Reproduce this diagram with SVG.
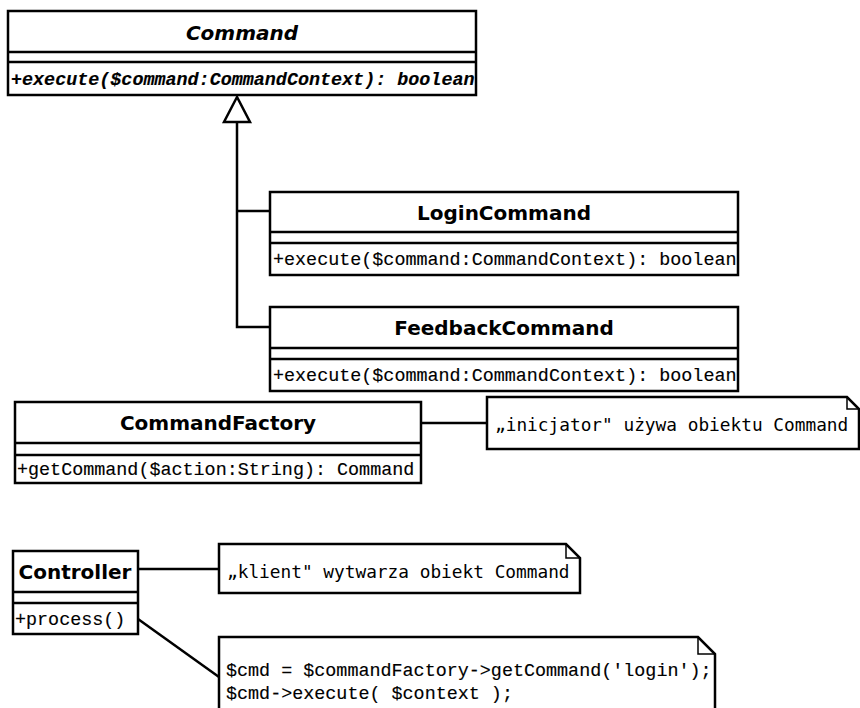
<svg xmlns="http://www.w3.org/2000/svg" width="860" height="708" viewBox="0 0 860 708">
<defs>
<style>
.box{fill:#fff;stroke:#000;stroke-width:2.5}
.dv{stroke:#000;stroke-width:2.5}
.name{font-family:"DejaVu Sans","Liberation Sans",sans-serif;font-weight:bold;font-size:20px;text-anchor:middle;fill:#000}
.op{font-family:"Liberation Mono","DejaVu Sans Mono",monospace;font-size:18.4px;fill:#000;stroke:#000;stroke-width:0.15}
.note{fill:#fff;stroke:#000;stroke-width:2.5;stroke-linejoin:miter}
.fold{fill:none;stroke:#000;stroke-width:1.5}
.ntext{font-family:"DejaVu Sans Mono",monospace;font-size:17.8px;fill:#000}
.code{font-family:"Liberation Mono","DejaVu Sans Mono",monospace;font-size:18.4px;fill:#000;stroke:#000;stroke-width:0.15}
.conn{stroke:#000;stroke-width:2.5;fill:none}
</style>
</defs>
<rect width="860" height="708" fill="#fff"/>
<g id="connectors">
<path class="conn" d="M237,122 V327 H270 M237,211 H270"/>
<polygon points="237,97 224,122 250,122" fill="#fff" stroke="#000" stroke-width="2.5"/>
<line class="conn" x1="421" y1="423" x2="487" y2="423"/>
<line class="conn" x1="138" y1="569" x2="219" y2="569"/>
<line class="conn" x1="138" y1="619" x2="219" y2="677"/>
</g>
<g id="Command">
<rect class="box" x="8" y="11" width="468" height="84"/>
<line class="dv" x1="8" y1="52" x2="476" y2="52"/>
<line class="dv" x1="8" y1="62" x2="476" y2="62"/>
<text class="name" x="242" y="40" font-style="italic">Command</text>
<text class="op" x="11" y="85" font-weight="bold" font-style="italic">+execute($command:CommandContext): boolean</text>
</g>
<g id="LoginCommand">
<rect class="box" x="270" y="192" width="468" height="83"/>
<line class="dv" x1="270" y1="232" x2="738" y2="232"/>
<line class="dv" x1="270" y1="243" x2="738" y2="243"/>
<text class="name" x="504" y="220">LoginCommand</text>
<text class="op" x="273" y="265">+execute($command:CommandContext): boolean</text>
</g>
<g id="FeedbackCommand">
<rect class="box" x="270" y="307" width="468" height="84"/>
<line class="dv" x1="270" y1="348" x2="738" y2="348"/>
<line class="dv" x1="270" y1="359" x2="738" y2="359"/>
<text class="name" x="504" y="335">FeedbackCommand</text>
<text class="op" x="273" y="381">+execute($command:CommandContext): boolean</text>
</g>
<g id="CommandFactory">
<rect class="box" x="15" y="402" width="406" height="81"/>
<line class="dv" x1="15" y1="443" x2="421" y2="443"/>
<line class="dv" x1="15" y1="455" x2="421" y2="455"/>
<text class="name" x="218" y="430">CommandFactory</text>
<text class="op" x="17" y="475">+getCommand($action:String): Command</text>
</g>
<g id="note-inicjator">
<path class="note" d="M487,397 H847 L859,409 V449 H487 Z"/>
<path class="fold" d="M847,397 V409 H859"/>
<text class="ntext" x="495" y="431">„inicjator" używa obiektu Command</text>
</g>
<g id="Controller">
<rect class="box" x="13" y="551" width="125" height="83"/>
<line class="dv" x1="13" y1="592" x2="138" y2="592"/>
<line class="dv" x1="13" y1="603" x2="138" y2="603"/>
<text class="name" x="75" y="579">Controller</text>
<text class="op" x="15" y="625">+process()</text>
</g>
<g id="note-klient">
<path class="note" d="M219,544 H566 L580,558 V593 H219 Z"/>
<path class="fold" d="M566,544 V558 H580"/>
<text class="ntext" x="227" y="578">„klient" wytwarza obiekt Command</text>
</g>
<g id="note-code">
<path class="note" d="M219,637 H698 L715,654 V712 H219 Z"/>
<path class="fold" d="M698,637 V654 H715"/>
<text class="code" x="226" y="676">$cmd = $commandFactory-&gt;getCommand('login');</text>
<text class="code" x="226" y="699">$cmd-&gt;execute( $context );</text>
</g>
</svg>
